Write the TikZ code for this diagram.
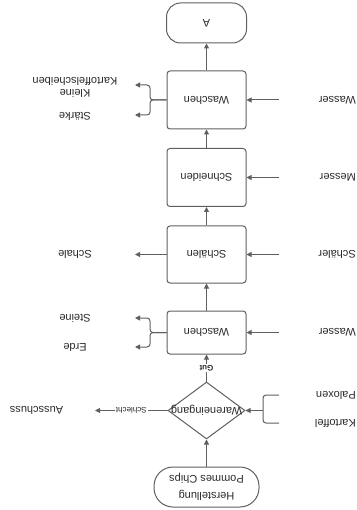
\documentclass[tikz,border=0pt]{standalone}
\usepackage{fontspec}
\setmainfont{Liberation Sans}
\usepackage{graphicx}
\usetikzlibrary{arrows.meta,shapes.geometric}
\definecolor{ln}{HTML}{5F5F5F}
\definecolor{tx}{HTML}{2A2A2A}
\newcommand{\rt}[1]{\rotatebox{180}{#1}}
\begin{document}
\begin{tikzpicture}[x=1pt,y=-1pt,
  line/.style={draw=ln, line width=1pt},
  arr/.style={line, -{Triangle[length=5pt,width=5pt]}},
  txt/.style={text=tx, font=\fontsize{11}{12}\selectfont, inner sep=0pt},
  proc/.style={line, txt, rounded corners=3pt, minimum width=79pt, minimum height=58pt},
  term/.style={line, txt, minimum height=40pt},
  small/.style={text=tx, font=\fontsize{8}{9}\selectfont, fill=white, inner sep=1pt},
  inlbl/.style={txt, anchor=east},
  outlbl/.style={txt}]
\path[use as bounding box] (0,0) rectangle (356,510);

% main column
\node[term, rounded corners=14pt, minimum width=80pt] (A) at (206.5,23) {\rt{A}};
\node[proc] (w2) at (206.5,100) {\rt{Waschen}};
\node[proc] (sn) at (206.5,177.5) {\rt{Schneiden}};
\node[proc, minimum height=57pt] (sl) at (206.5,254.5) {\rt{Schälen}};
\node[proc, minimum height=43pt] (w1) at (206.5,332.5) {\rt{Waschen}};
\node[line, diamond, minimum width=77pt, minimum height=57pt, inner sep=0pt] (d) at (206.5,410.5) {};
\node[txt] (dt) at (d) {\rt{Wareneingang}};
\node[term, rounded corners=19pt, minimum width=105pt] (st) at (206.5,487)
  {\rt{\fontsize{11}{17}\selectfont\begin{tabular}{@{}c@{}}Herstellung\\Pommes Chips\end{tabular}}};

\draw[arr] (st.north) -- (d.south);
\draw[arr] (d.north) -- node[small]{\rt{\bfseries Gut}} (w1.south);
\draw[arr] (w1.north) -- (sl.south);
\draw[arr] (sl.north) -- (sn.south);
\draw[arr] (sn.north) -- (w2.south);
\draw[arr] (w2.north) -- (A.south);

% Ausschuss
\node[outlbl] (aus) at (36.5,410.5) {\rt{Ausschuss}};
\coordinate (ausin) at (95,410.5);
\draw[arr] (d.west) -- node[small]{\rt{Schlecht}} (ausin);

% inputs (right)
\coordinate (kp1) at (279,395);
\coordinate (kp2) at (279,423);
\coordinate (kb) at (263,410.5);
\draw[line, rounded corners=3pt] (kp1) -| (kb) |- (kp2);
\draw[arr] (kb) -- (d.east);
\node[inlbl] (pal) at (356,395) {\rt{Paloxen}};
\node[inlbl] (kar) at (356,423) {\rt{Kartoffel}};

\coordinate (win1) at (279,332.5);
\draw[arr] (win1) -- (w1.east);
\node[inlbl] (was1) at (356,332.5) {\rt{Wasser}};

\coordinate (schin) at (279,254.5);
\draw[arr] (schin) -- (sl.east);
\node[inlbl] (schr) at (356,254.5) {\rt{Schäler}};

\coordinate (mesin) at (279,177.5);
\draw[arr] (mesin) -- (sn.east);
\node[inlbl] (mes) at (356,177.5) {\rt{Messer}};

\coordinate (win2) at (279,100);
\draw[arr] (win2) -- (w2.east);
\node[inlbl] (was2) at (356,100) {\rt{Wasser}};

% outputs (left)
\coordinate (w1b) at (150,332.5);
\coordinate (steo) at (135,318);
\coordinate (erdo) at (135,347);
\draw[arr, rounded corners=3pt] (w1.west) -- (w1b) |- (steo);
\draw[arr, rounded corners=3pt] (w1.west) -- (w1b) |- (erdo);
\node[outlbl] (ste) at (75,318) {\rt{Steine}};
\node[outlbl] (erd) at (75,347) {\rt{Erde}};

\coordinate (shlo) at (135,254.5);
\draw[arr] (sl.west) -- (shlo);
\node[outlbl] (shl) at (75,254.5) {\rt{Schale}};

\coordinate (w2b) at (150,100);
\coordinate (kko) at (135,85);
\coordinate (sto) at (135,115);
\draw[arr, rounded corners=3pt] (w2.west) -- (w2b) |- (kko);
\draw[arr, rounded corners=3pt] (w2.west) -- (w2b) |- (sto);
\node[outlbl] (kk) at (75,86) {\rt{\begin{tabular}{@{}c@{}}Kleine\\Kartoffelscheiben\end{tabular}}};
\node[outlbl] (str) at (75,116) {\rt{Stärke}};
\end{tikzpicture}
\end{document}
